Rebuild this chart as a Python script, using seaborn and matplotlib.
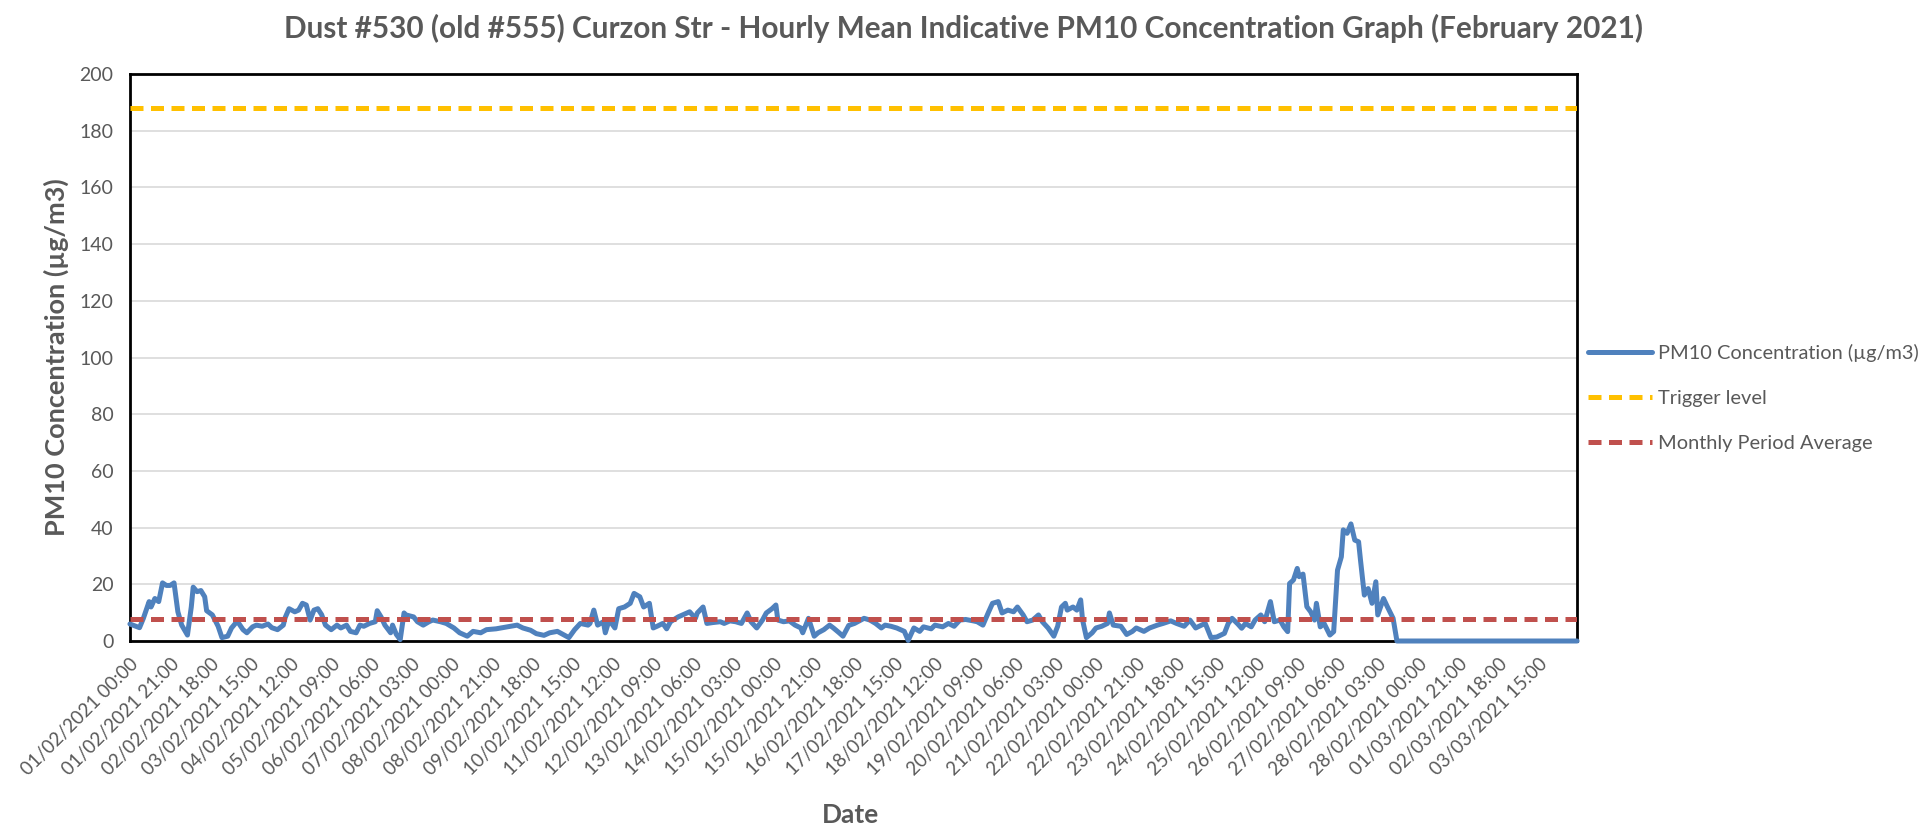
import matplotlib
matplotlib.use('Agg')
import numpy as np
import pandas as pd
import seaborn as sns
import matplotlib.pyplot as plt

# hours since 01/02/2021 00:00 in four chunks
hours_wk1 = [0, 5, 7, 10, 11, 13, 15, 17, 19, 21,
             23, 25, 27, 30, 32, 33, 35, 37, 39, 40,
             43, 46, 48, 51, 53, 56, 59, 61, 64, 66,
             69, 72, 74, 77, 80, 81, 83, 86, 88, 90,
             92, 94, 96, 98, 100, 102, 105, 108, 110, 113,
             115, 118, 120, 122, 125, 128, 129, 131, 133, 136,
             137, 139, 141, 143, 144, 148, 150, 153, 156, 158,
             162, 165, 169, 172, 176, 179, 183, 186]
pm10_wk1 = [6, 4.7, 8, 13.9, 12, 15, 13.9, 20.5, 19.6, 19.6,
            20.5, 10.3, 5.6, 2.1, 12, 19, 17.4, 17.8, 15.6, 10.7,
            9.2, 5.2, 1.2, 1.7, 4.6, 7, 4, 2.9, 5, 5.6,
            5.2, 6, 4.7, 4, 5.6, 8.3, 11.4, 10.3, 10.9, 13.3,
            12.7, 7.4, 10.9, 11.4, 9.3, 5.6, 4, 5.6, 4.6, 5.6,
            3.4, 2.9, 5.6, 5.2, 6.2, 6.8, 10.7, 8.5, 5.6, 2.9,
            5.6, 2.3, 0.5, 9.9, 9.2, 8.5, 6.8, 5.6, 6.8, 7.4,
            6.8, 6.2, 4.6, 2.9, 1.7, 3.4, 2.9, 4]

hours_wk2 = [191, 197, 202, 205, 209, 212, 216, 219, 223, 226,
             229, 232, 235, 239, 240, 242, 244, 247, 248, 250,
             253, 255, 258, 261, 263, 266, 268, 271, 273, 275,
             278, 280, 282, 286, 289, 292, 295, 296, 299, 301,
             304, 308, 310, 313, 316, 319, 322, 324, 327, 330,
             332, 335, 337, 338, 341, 344, 347, 350, 351, 354,
             357, 359, 362, 365, 367, 370, 372, 375, 378]
pm10_wk2 = [4.3, 5, 5.6, 4.6, 3.8, 2.6, 2, 2.9, 3.4, 2.3,
            1.2, 4, 6.2, 5.6, 6.2, 10.9, 5.6, 6.8, 2.9, 7.4,
            4.6, 11.4, 12, 13.3, 16.8, 15.6, 12, 13.3, 4.6, 5.2,
            6.2, 4.3, 6.8, 8.5, 9.4, 10.3, 8, 9.9, 12, 6.2,
            6.5, 6.8, 6.2, 7.1, 6.8, 6.2, 9.9, 6.8, 4.6, 7.4,
            9.9, 11.4, 12.7, 7.4, 6.8, 7.1, 5.6, 4.6, 2.9, 8,
            1.7, 2.9, 4, 5.6, 4.6, 2.9, 1.7, 5.5, 6.2]

hours_wk3 = [383, 386, 389, 392, 394, 397, 400, 404, 406, 409,
             412, 414, 418, 420, 424, 427, 430, 433, 436, 440,
             442, 445, 448, 450, 453, 455, 458, 461, 463, 466,
             468, 471, 474, 476, 479, 482, 484, 486, 488, 489,
             492, 494, 496, 497, 499, 502, 504, 507, 510, 511,
             513, 517, 520, 523, 525, 529, 532, 536, 539, 543,
             546, 550, 553, 556, 559, 561]
pm10_wk3 = [8, 7.4, 6.2, 4.6, 5.6, 5.2, 4.6, 3.4, 0.2, 4.6,
            3.4, 5, 4.3, 5.6, 5, 6.2, 5.2, 7.4, 7.6, 7.1,
            6.8, 5.6, 10.3, 13.3, 13.9, 9.9, 10.9, 10.3, 12, 9.2,
            6.8, 7.4, 9.2, 6.8, 4.6, 1.7, 5.2, 12, 13.3, 10.9,
            12, 10.9, 14.5, 7.4, 1.2, 2.9, 4.6, 5.2, 6.2, 9.9,
            5.6, 5.2, 2.3, 3.4, 4.6, 3.4, 4.6, 5.6, 6.2, 7.1,
            6.2, 5.2, 7.4, 4.6, 5.6, 6.2]

hours_wk4 = [564, 567, 571, 573, 575, 578, 580, 582, 585, 587,
             590, 592, 595, 597, 600, 602, 604, 605, 607, 609,
             610, 612, 614, 616, 618, 619, 621, 623, 626, 628,
             630, 632, 633, 635, 637, 639, 641, 642, 644, 646,
             648, 650, 651, 654, 656, 659, 661, 672, 696, 720,
             744, 755]
pm10_wk4 = [1.2, 1.4, 2.7, 6.2, 8, 6, 4.5, 6.2, 5, 7.4,
            9.2, 6.8, 13.9, 6.8, 7.4, 5, 3.3, 20.3, 21.5, 25.6,
            22.7, 23.6, 12.1, 10.3, 7.4, 13.3, 5, 6.2, 2.1, 3.3,
            25, 29.7, 39.2, 38, 41.3, 35.6, 35, 28.5, 16.2, 18.5,
            13.3, 20.9, 9.2, 15, 12.1, 8, 0, 0, 0, 0,
            0, 0]

trigger_level = 188
monthly_average = 7.7

tick_labels = ['01/02/2021 00:00', '01/02/2021 21:00', '02/02/2021 18:00', '03/02/2021 15:00',
               '04/02/2021 12:00', '05/02/2021 09:00', '06/02/2021 06:00', '07/02/2021 03:00',
               '08/02/2021 00:00', '08/02/2021 21:00', '09/02/2021 18:00', '10/02/2021 15:00',
               '11/02/2021 12:00', '12/02/2021 09:00', '13/02/2021 06:00', '14/02/2021 03:00',
               '15/02/2021 00:00', '15/02/2021 21:00', '16/02/2021 18:00', '17/02/2021 15:00',
               '18/02/2021 12:00', '19/02/2021 09:00', '20/02/2021 06:00', '21/02/2021 03:00',
               '22/02/2021 00:00', '22/02/2021 21:00', '23/02/2021 18:00', '24/02/2021 15:00',
               '25/02/2021 12:00', '26/02/2021 09:00', '27/02/2021 06:00', '28/02/2021 03:00',
               '28/02/2021 00:00', '01/03/2021 21:00', '02/03/2021 18:00', '03/03/2021 15:00']

title = 'Dust #530 (old #555) Curzon Str - Hourly Mean Indicative PM10 Concentration Graph (February 2021)'

blue = '#4F81BD'
yellow = '#FFC000'
red = '#C0504D'
gray = '#595959'

df = pd.DataFrame({
    'hour': hours_wk1 + hours_wk2 + hours_wk3 + hours_wk4,
    'pm10': pm10_wk1 + pm10_wk2 + pm10_wk3 + pm10_wk4,
})

sns.set_theme(style='white')
plt.rcParams['font.family'] = ['Lato', 'DejaVu Sans']

fig = plt.figure(figsize=(19.28, 8.30), dpi=100)
ax = fig.add_axes([0.0674, 0.2277, 0.7506, 0.6831])

sns.lineplot(data=df, x='hour', y='pm10', ax=ax, estimator=None, color=blue,
             linewidth=3.6, label='PM10 Concentration (µg/m3)', clip_on=False, zorder=3)
ax.axhline(trigger_level, color=yellow, linewidth=3.6, linestyle=(0, (2.6, 1.5)),
           label='Trigger level', zorder=4)
ax.axhline(monthly_average, color=red, linewidth=3.6, linestyle=(0, (2.6, 1.5)),
           label='Monthly Period Average', zorder=4)

ax.set_xlim(0, 755)
ax.set_ylim(0, 200)
ax.set_yticks(range(0, 201, 20))
ax.set_xticks(range(0, 21 * len(tick_labels), 21))
ax.set_xticklabels(tick_labels, rotation=45, ha='right', rotation_mode='anchor')
ax.tick_params(axis='x', length=0, pad=10, labelsize=13.5, labelcolor=gray)
ax.tick_params(axis='y', length=0, pad=12, labelsize=14, labelcolor=gray)

ax.yaxis.grid(True, color='#D9D9D9', linewidth=1.2)
ax.xaxis.grid(False)
ax.set_axisbelow(True)
for s in ax.spines.values():
    s.set_visible(True)
    s.set_color('black')
    s.set_linewidth(2)

ax.set_ylabel('PM10 Concentration (µg/m3)', fontsize=19.5, fontweight='bold', color=gray)
ax.yaxis.set_label_coords(-0.042, 0.5)
ax.set_xlabel('Date', fontsize=19, fontweight='bold', color=gray)
ax.xaxis.set_label_coords(0.4976, -0.286)

fig.text(0.5, 0.966, title, ha='center', va='center', fontsize=21.4,
         fontweight='bold', color=gray)

ax.legend(loc='center left', bbox_to_anchor=(0.8237, 0.52), bbox_transform=fig.transFigure,
          frameon=False, fontsize=14.4, handlelength=3.2, handletextpad=0.3,
          labelspacing=1.4, borderpad=0, borderaxespad=0, labelcolor=gray)

fig.savefig('out.png', dpi=100)
